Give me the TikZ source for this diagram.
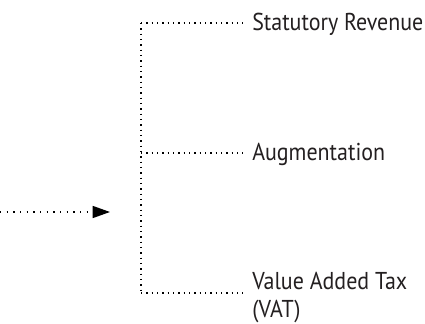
\documentclass[tikz,border=0pt]{standalone}
\usepackage{fontspec}
\setmainfont[FakeStretch=0.9]{PT Sans}
\usetikzlibrary{arrows.meta}
\definecolor{txt}{HTML}{231F20}
\tikzset{
  dots/.style={line width=1pt, dash pattern=on 0.9pt off 3.1pt, black},
  arrdots/.style={line width=1pt, dash pattern=on 0.9pt off 4.1pt, black},
  lbl/.style={anchor=base west, inner xsep=6.75pt, inner ysep=0pt, text=txt, font=\fontsize{18.3pt}{21pt}\selectfont, align=left},
}
\begin{document}
\begin{tikzpicture}[x=0.75pt, y=-0.75pt]
\useasboundingbox (0,0) rectangle (425,324);
\coordinate (src) at (0,212);
\coordinate (tip) at (110,212);
\coordinate (c1) at (141,23);
\coordinate (c2) at (141,153);
\coordinate (c3) at (141,293);
\node[lbl] (sr) at (243,31) {Statutory Revenue};
\node[lbl] (aug) at (243,161) {Augmentation};
\node[lbl] (vat) at (243,317) {Value Added Tax\\(VAT)};
\draw[arrdots, -{Triangle[length=13pt, width=9pt, sep=0pt]}] (src) -- (tip);
\draw[dots] (c1) -- (c3);
\draw[dots] (c1) -- (c1 -| sr.west);
\draw[dots] (c2) -- (c2 -| aug.west);
\draw[dots] (c3) -- (c3 -| vat.west);
\end{tikzpicture}
\end{document}
